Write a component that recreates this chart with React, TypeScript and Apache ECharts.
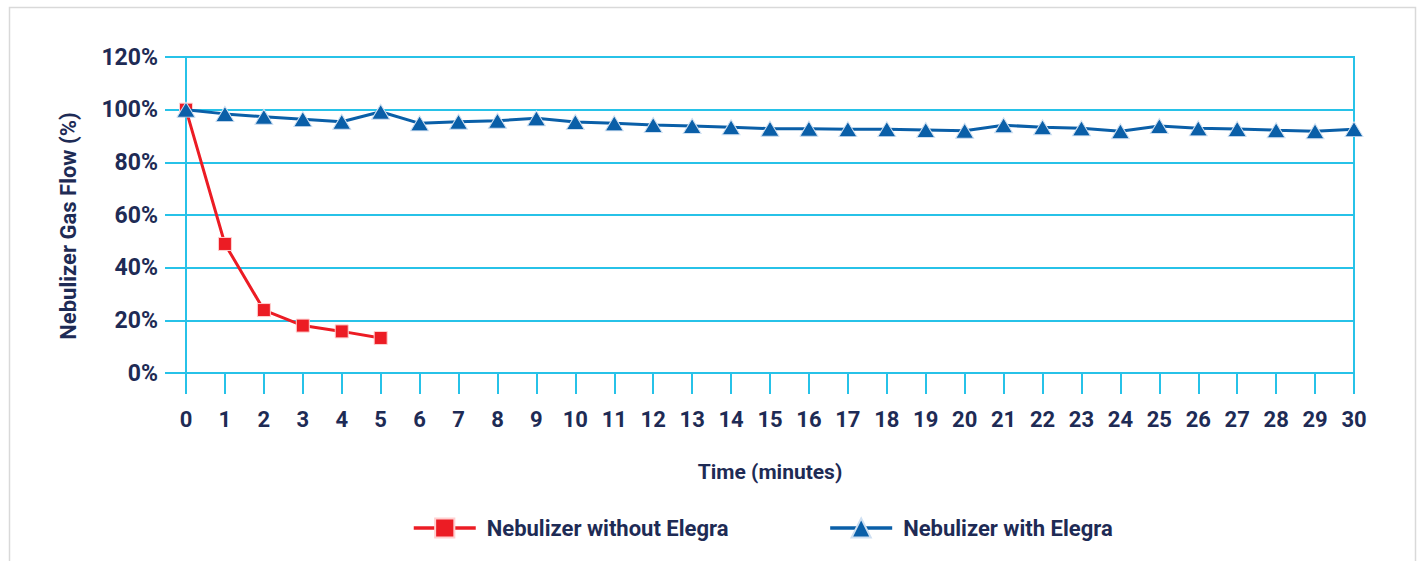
import React, { useEffect, useRef } from "react";
import * as echarts from "echarts";

const minutes: string[] = [
  "0","1","2","3","4","5","6","7","8","9","10","11","12","13","14","15",
  "16","17","18","19","20","21","22","23","24","25","26","27","28","29","30",
];

const withoutElegra: number[] = [100, 49, 23.9, 18, 15.8, 13.3];

const withElegra: number[] = [
  100, 98.4, 97.3, 96.4, 95.4, 99.2, 94.8, 95.4, 95.8, 96.7,
  95.3, 94.8, 94.2, 93.8, 93.3, 92.8, 92.8, 92.6, 92.6, 92.3,
  92.0, 94.1, 93.3, 92.9, 91.8, 93.8, 92.9, 92.7, 92.2, 91.8, 92.6,
];

const yTicks = { min: 0, max: 120, interval: 20 };

const GRID = "#27c2e8";
const TEXT = "#1e2b55";
const RED = "#ec1c24";
const BLUE = "#0a5fa8";
const FONT = "Roboto";

export default function App() {
  const ref = useRef<HTMLDivElement>(null);
  useEffect(() => {
    if (!ref.current) return;
    const chart = echarts.init(ref.current, undefined, { renderer: "svg" });
    chart.setOption({
      animation: false,
      backgroundColor: "#ffffff",
      textStyle: { fontFamily: FONT },
      grid: {
        left: 186,
        right: 66,
        top: 57,
        bottom: 188,
        show: true,
        borderColor: GRID,
        borderWidth: 2,
        containLabel: false,
        outerBoundsMode: "none",
      },
      graphic: [
        {
          type: "rect",
          shape: { x: 9.5, y: 7.5, width: 1406, height: 600 },
          style: { fill: "none", stroke: "#d9d9d9", lineWidth: 1.5 },
          silent: true,
        },
        {
          type: "text",
          x: 68,
          y: 226,
          rotation: Math.PI / 2,
          style: {
            text: "Nebulizer Gas Flow (%)",
            fill: TEXT,
            font: `bold 22px ${FONT}`,
            align: "center",
            verticalAlign: "middle",
          },
        },
      ],
      legend: {
        left: 407,
        top: 512,
        itemWidth: 62,
        itemHeight: 24,
        itemGap: 100,
        lineStyle: { width: 3.5 },
        textStyle: {
          color: TEXT,
          fontSize: 22,
          fontWeight: "bold",
          fontFamily: FONT,
          padding: [0, 0, 0, 6],
        },
        data: ["Nebulizer without Elegra", "Nebulizer with Elegra"],
      },
      xAxis: {
        type: "category",
        data: minutes,
        boundaryGap: false,
        name: "Time (minutes)",
        nameLocation: "middle",
        nameGap: 88,
        nameTextStyle: { color: TEXT, fontSize: 21, fontWeight: "bold", fontFamily: FONT },
        axisLine: { show: true, lineStyle: { color: GRID, width: 2 } },
        axisTick: { show: true, length: 21, interval: 0, lineStyle: { color: GRID, width: 2 } },
        axisLabel: {
          interval: 0,
          margin: 35,
          color: TEXT,
          fontSize: 22,
          fontWeight: "bold",
          fontFamily: FONT,
        },
        splitLine: { show: false },
      },
      yAxis: {
        type: "value",
        min: yTicks.min,
        max: yTicks.max,
        interval: yTicks.interval,
        axisLine: { show: true, lineStyle: { color: GRID, width: 2 } },
        axisTick: { show: true, length: 21, lineStyle: { color: GRID, width: 2 } },
        axisLabel: {
          margin: 28,
          formatter: "{value}%",
          color: TEXT,
          fontSize: 23,
          fontWeight: "bold",
          fontFamily: FONT,
        },
        splitLine: { show: true, lineStyle: { color: GRID, width: 2 } },
      },
      series: [
        {
          name: "Nebulizer without Elegra",
          type: "line",
          data: withoutElegra,
          symbol: "rect",
          symbolSize: 13,
          lineStyle: { color: RED, width: 3 },
          itemStyle: { color: RED, borderColor: "#ffd0d0", borderWidth: 1 },
          z: 2,
        },
        {
          name: "Nebulizer with Elegra",
          type: "line",
          data: withElegra,
          symbol: "triangle",
          symbolSize: [18, 15],
          lineStyle: { color: BLUE, width: 3 },
          itemStyle: { color: BLUE, borderColor: "#cfe0f2", borderWidth: 1 },
          z: 3,
        },
      ],
    });
    return () => chart.dispose();
  }, []);
  return (
    <div
      ref={ref}
      style={{ position: "absolute", left: 0, top: 0, width: 1420, height: 561 }}
    />
  );
}
